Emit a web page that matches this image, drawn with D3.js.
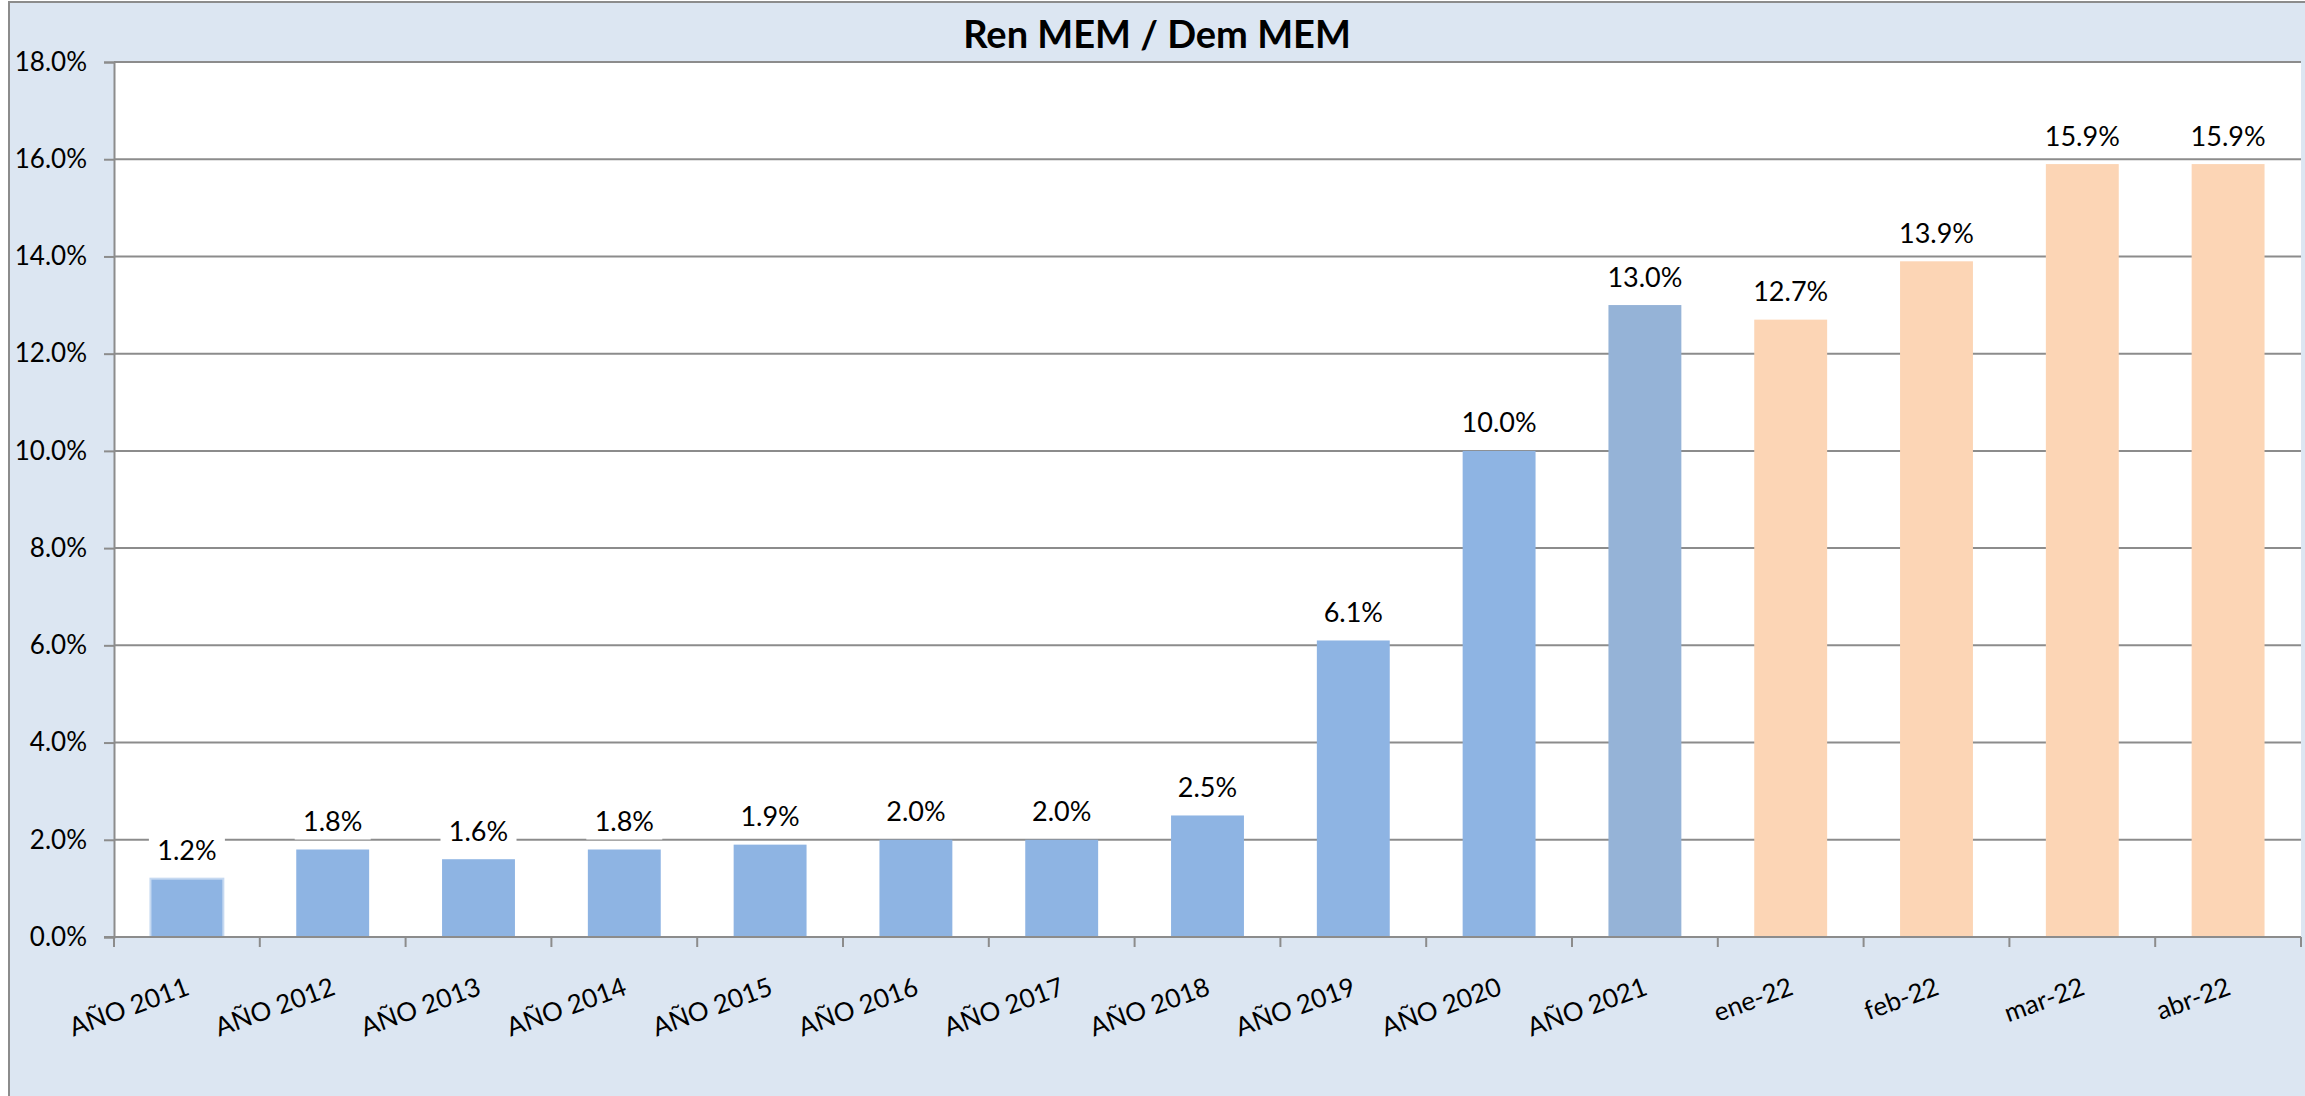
<!DOCTYPE html>
<html>
<head>
<meta charset="utf-8">
<script src="https://cdn.jsdelivr.net/npm/d3@7"></script>
<style>
  body { margin: 0; background: #fff; }
  text { font-family: Lato, "Open Sans", sans-serif; fill: #000; }
</style>
</head>
<body>
<div id="chart"></div>
<script>
// data
const categories = ["AÑO 2011", "AÑO 2012", "AÑO 2013", "AÑO 2014", "AÑO 2015", "AÑO 2016",
  "AÑO 2017", "AÑO 2018", "AÑO 2019", "AÑO 2020", "AÑO 2021", "ene-22", "feb-22", "mar-22", "abr-22"];
const values = [1.2, 1.8, 1.6, 1.8, 1.9, 2.0, 2.0, 2.5, 6.1, 10.0, 13.0, 12.7, 13.9, 15.9, 15.9];
const barColors = ["#8EB4E3", "#8EB4E3", "#8EB4E3", "#8EB4E3", "#8EB4E3", "#8EB4E3", "#8EB4E3",
  "#8EB4E3", "#8EB4E3", "#8EB4E3", "#95B3D7", "#FCD5B5", "#FCD5B5", "#FCD5B5", "#FCD5B5"];
const yTicks = [0, 2, 4, 6, 8, 10, 12, 14, 16, 18];

const W = 2305, H = 1096;
const margin = {top: 62, right: 4, bottom: 159, left: 114},
    width = W - margin.left - margin.right,
    height = H - margin.top - margin.bottom;

const svgRoot = d3.select("#chart").append("svg")
    .attr("width", W)
    .attr("height", H);

// chart area background
svgRoot.append("rect")
    .attr("x", 9).attr("y", 2)
    .attr("width", W).attr("height", H)
    .attr("fill", "#DCE6F2")
    .attr("stroke", "#8c8c8c")
    .attr("stroke-width", 2);

// title
svgRoot.append("text")
    .attr("x", 1157)
    .attr("y", 48)
    .attr("text-anchor", "middle")
    .style("font-size", "38px")
    .style("font-weight", "bold")
    .text("Ren MEM / Dem MEM");

const svg = svgRoot.append("g")
    .attr("transform", `translate(${margin.left},${margin.top})`);

// plot area
svg.append("rect")
    .attr("width", width).attr("height", height)
    .attr("fill", "#fff");

const x = d3.scaleBand()
    .domain(categories)
    .range([0, width])
    .paddingInner(0.5)
    .paddingOuter(0.25);

const y = d3.scaleLinear()
    .domain([0, 18])
    .range([height, 0]);

// gridlines
svg.append("g")
    .selectAll("line")
    .data(yTicks.slice(1))
    .join("line")
    .attr("x1", 0).attr("x2", width)
    .attr("y1", d => y(d)).attr("y2", d => y(d))
    .attr("stroke", "#8c8c8c")
    .attr("stroke-width", 2);

// bars
svg.append("g")
    .selectAll("rect")
    .data(values)
    .join("rect")
    .attr("x", (d, i) => x(categories[i]))
    .attr("y", d => y(d))
    .attr("width", x.bandwidth())
    .attr("height", d => height - y(d))
    .attr("fill", (d, i) => barColors[i])
    .attr("stroke", (d, i) => i === 0 ? "#C6D9F1" : "none")
    .attr("stroke-width", 2);

// y axis
const yAxis = svg.append("g")
    .call(d3.axisLeft(y).tickValues(yTicks).tickSize(10).tickPadding(17)
        .tickFormat(d => d.toFixed(1) + "%"));
yAxis.select(".domain").attr("stroke", "#8c8c8c").attr("stroke-width", 2);
yAxis.selectAll(".tick line").attr("stroke", "#8c8c8c").attr("stroke-width", 2);
yAxis.selectAll(".tick text").style("font-size", "26px").style("font-family", "Lato, sans-serif");

// x axis (ticks at band boundaries)
const bounds = d3.range(categories.length + 1).map(i => i * width / categories.length);
const xAxis = svg.append("g").attr("transform", `translate(0,${height})`);
xAxis.append("line")
    .attr("x1", -10).attr("x2", width)
    .attr("stroke", "#8c8c8c").attr("stroke-width", 2);
xAxis.selectAll(".xtick")
    .data(bounds)
    .join("line")
    .attr("class", "xtick")
    .attr("x1", d => d).attr("x2", d => d)
    .attr("y1", 0).attr("y2", 10)
    .attr("stroke", "#8c8c8c").attr("stroke-width", 2);
xAxis.selectAll(".xlabel")
    .data(categories)
    .join("text")
    .attr("class", "xlabel")
    .attr("text-anchor", "end")
    .attr("transform", d => `translate(${x(d) + x.bandwidth() / 2 + 4},${57}) rotate(-20)`)
    .style("font-size", "26px")
    .text(d => d);

// data labels with white boxes
const labels = svg.append("g")
    .selectAll("g")
    .data(values)
    .join("g")
    .attr("transform", (d, i) => `translate(${x(categories[i]) + x.bandwidth() / 2},${y(d) - 28})`);
labels.append("rect")
    .attr("x", -38).attr("y", -18)
    .attr("width", 76).attr("height", 36)
    .attr("fill", "#fff");
labels.append("text")
    .attr("text-anchor", "middle")
    .attr("dy", "0.35em")
    .style("font-size", "27px")
    .text(d => d.toFixed(1) + "%");
</script>
</body>
</html>
